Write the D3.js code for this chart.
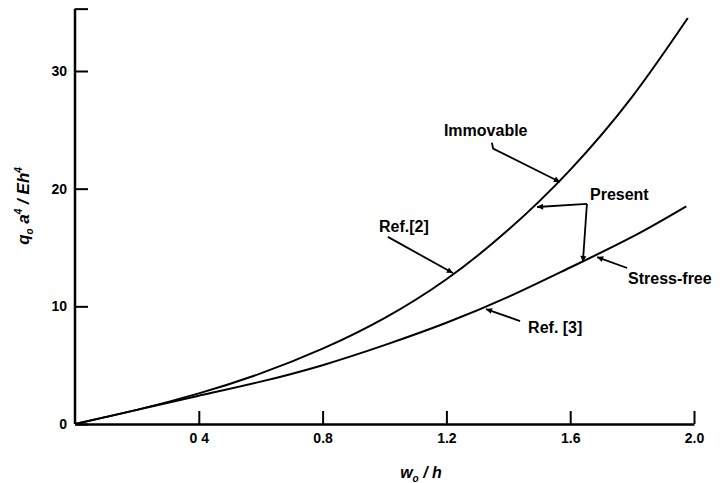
<!DOCTYPE html>
<html lang="en">
<head>
  <meta charset="UTF-8">
  <title>Load vs deflection</title>
  <script src="https://d3js.org/d3.v7.min.js"></script>
  <style>
    body { margin: 0; background: #fff; }
    svg text { font-family: "Liberation Sans", Arial, sans-serif; fill: #000; }
  </style>
</head>
<body>
  <div id="chart"></div>

  <script>
    // values: w0/h vs q0 a^4 / E h^4
    const wValues = [0, 0.2, 0.4, 0.6, 0.8, 1.0, 1.2, 1.4, 1.6, 1.8, 1.98];
    const immovable = [0, 1.2, 2.6, 4.3, 6.4, 9.0, 12.3, 16.5, 21.6, 27.8, 34.5];
    const wStress = [0, 0.2, 0.4, 0.6, 0.8, 1.0, 1.2, 1.4, 1.6, 1.8, 1.975];
    const stressFree = [0, 1.2, 2.4, 3.6, 5.0, 6.7, 8.6, 10.8, 13.3, 15.9, 18.5];

    const xTicks = [0.4, 0.8, 1.2, 1.6, 2.0];
    const xTickLabels = ["0 4", "0.8", "1.2", "1.6", "2.0"];
    const yTicks = [0, 10, 20, 30];
    const yTickLabels = ["0", "10", "20", "30"];
    const yTop = 35.3;

    // annotation text and leader lines, in data units (w0/h, load)
    const notes = [
      { text: "Immovable", at: [1.192, 24.5], leader: [[1.347, 23.9], [1.351, 23.4], [1.567, 20.57]] },
      { text: "Present", at: [1.664, 19.0], leader: [[1.654, 18.7], [1.493, 18.44]] },
      { text: null, at: null, leader: [[1.654, 18.7], [1.641, 13.77]] },
      { text: "Ref.[2]", at: [0.982, 16.3], leader: [[1.011, 15.9], [1.221, 12.83]] },
      { text: "Stress-free", at: [1.787, 11.9], leader: [[1.784, 13.26], [1.687, 14.19]] },
      { text: "Ref. [3]", at: [1.464, 7.73], leader: [[1.438, 8.75], [1.328, 9.77]] }
    ];

    const W = 725, H = 483;
    const svg = d3.select("#chart").append("svg")
      .attr("width", W).attr("height", H);

    const x = d3.scaleLinear().domain([0, 2]).range([75, 694]);
    const y = d3.scaleLinear().domain([0, 30]).range([424, 71]);

    svg.append("defs").append("marker")
      .attr("id", "arr")
      .attr("viewBox", "0 0 10 10")
      .attr("refX", 10).attr("refY", 5)
      .attr("markerWidth", 9).attr("markerHeight", 6)
      .attr("markerUnits", "userSpaceOnUse")
      .attr("orient", "auto")
      .append("path").attr("d", "M0,0L10,5L0,10Z").attr("fill", "#000");

    // x axis, ticks pointing inward
    const xAxis = svg.append("g")
      .attr("transform", "translate(0," + y(0) + ")")
      .call(d3.axisBottom(x).tickValues(xTicks)
        .tickFormat((d, i) => xTickLabels[i])
        .tickSizeInner(-13).tickSizeOuter(0).tickPadding(9));

    // y axis, with an unlabelled tick at its top end
    const yAxis = svg.append("g")
      .attr("transform", "translate(" + x(0) + ",0)")
      .call(d3.axisLeft(y).tickValues(yTicks.concat([yTop]))
        .tickFormat((d, i) => yTickLabels[i] || "")
        .tickSizeInner(-13).tickSizeOuter(0).tickPadding(8));
    yAxis.select(".domain").attr("d", "M0," + y(0) + "V" + y(yTop));

    [xAxis, yAxis].forEach(g => {
      g.select(".domain").attr("stroke-width", 2.5);
      g.selectAll(".tick line").attr("stroke-width", 2);
      g.selectAll(".tick text")
        .style("font-size", "14px").style("font-weight", "bold");
    });

    const line = d3.line()
      .x(d => x(d[0])).y(d => y(d[1]))
      .curve(d3.curveNatural);

    svg.append("path")
      .datum(wValues.map((w, i) => [w, immovable[i]]))
      .attr("d", line).attr("fill", "none")
      .attr("stroke", "#000").attr("stroke-width", 2);

    svg.append("path")
      .datum(wStress.map((w, i) => [w, stressFree[i]]))
      .attr("d", line).attr("fill", "none")
      .attr("stroke", "#000").attr("stroke-width", 2);

    // annotations
    const leader = d3.line().x(d => x(d[0])).y(d => y(d[1]));
    notes.forEach(n => {
      svg.append("path")
        .attr("d", leader(n.leader))
        .attr("fill", "none").attr("stroke", "#000").attr("stroke-width", 1.8)
        .attr("marker-end", "url(#arr)");
      if (n.text) {
        svg.append("text")
          .attr("x", x(n.at[0])).attr("y", y(n.at[1]))
          .style("font-size", "16px").style("font-weight", "bold")
          .text(n.text);
      }
    });

    // axis titles
    const xt = svg.append("text")
      .attr("x", 421).attr("y", 478)
      .attr("text-anchor", "middle")
      .style("font-size", "16px").style("font-weight", "bold").style("font-style", "italic");
    xt.append("tspan").text("w");
    xt.append("tspan").attr("dy", 4).style("font-size", "10px").text("o");
    xt.append("tspan").attr("dy", -4).text(" / h");

    const yt = svg.append("text")
      .attr("transform", "translate(29,206) rotate(-90)")
      .attr("text-anchor", "middle")
      .style("font-size", "17px").style("font-weight", "bold").style("font-style", "italic");
    yt.append("tspan").text("q");
    yt.append("tspan").attr("dy", 4).style("font-size", "10px").text("o");
    yt.append("tspan").attr("dy", -4).text(" a");
    yt.append("tspan").attr("dy", -7).style("font-size", "10px").text("4");
    yt.append("tspan").attr("dy", 7).text(" / Eh");
    yt.append("tspan").attr("dy", -7).style("font-size", "10px").text("4");
  </script>
</body>
</html>
